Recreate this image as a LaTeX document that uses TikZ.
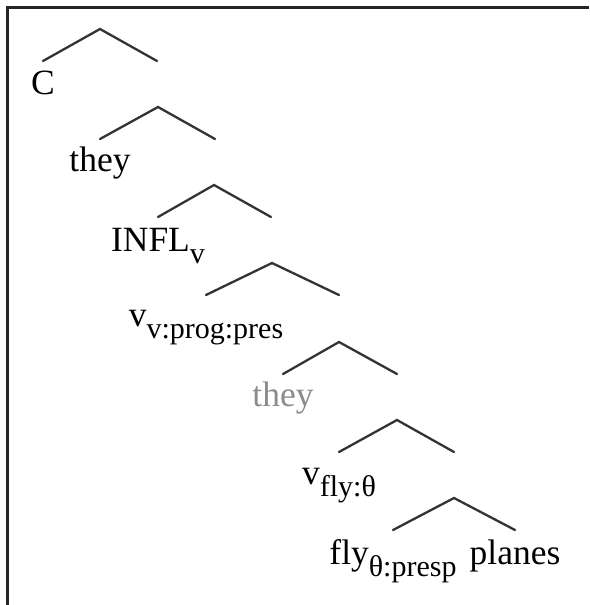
\documentclass[tikz,border=0pt]{standalone}
\usepackage{fontspec}
\setmainfont{Liberation Serif}
\usetikzlibrary{positioning}

% lowered, smaller text for the feature subscripts
\newcommand{\lbsub}[1]{\raisebox{-12pt}{\fontsize{30}{30}\selectfont #1}}

\tikzset{
	lab/.style={inner sep=0pt, anchor=base, font=\fontsize{35.5}{40}\selectfont},
	branch/.style={line width=2.3pt, draw=black!80, line cap=round},
	frameline/.style={line width=3pt, draw=black!85}
}

\begin{document}
\begin{tikzpicture}[x=1pt, y=-1pt]
			\useasboundingbox (0,0) rectangle (589,605);
			
			% Frame
			\draw[frameline] (7,605) -- (7,7) -- (589,7);
			
			% Branches (apex, left end, right end)
			\foreach \n/\x/\y/\l/\r in {1/100/29/57/57, 2/158/107/58/57, 3/214/185/56/57,
				4/272/263/66/67, 5/339/342/56/58, 6/397/420/58/57, 7/454/498/61/61} {
				\coordinate (a\n) at (\x,\y);
				\coordinate (l\n) at (\x-\l,\y+32);
				\coordinate (r\n) at (\x+\r,\y+32);
				\draw[branch] (l\n) -- (a\n) -- (r\n);
			}
			
			% Labels under the branch ends
			\node[lab] (comp) at ([yshift=-33pt]l1) {C};
			\node[lab] (subj) at ([yshift=-32pt]l2) {they};
			\node[lab] (infl) at ([yshift=-34pt]l3) {INFL\lbsub{v}};
			\node[lab] (vprog) at ([yshift=-31pt]l4) {v\lbsub{v:prog:pres}};
			\node[lab, text=black!45] (trace) at ([yshift=-32pt]l5) {they};
			\node[lab] (vfly) at ([yshift=-32pt]l6) {v\lbsub{fly:θ}};
			\node[lab] (verb) at ([yshift=-34pt]l7) {fly\lbsub{θ:presp}};
			\node[lab] (obj) at ([yshift=-34pt]r7) {planes};
		\end{tikzpicture}
\end{document}
